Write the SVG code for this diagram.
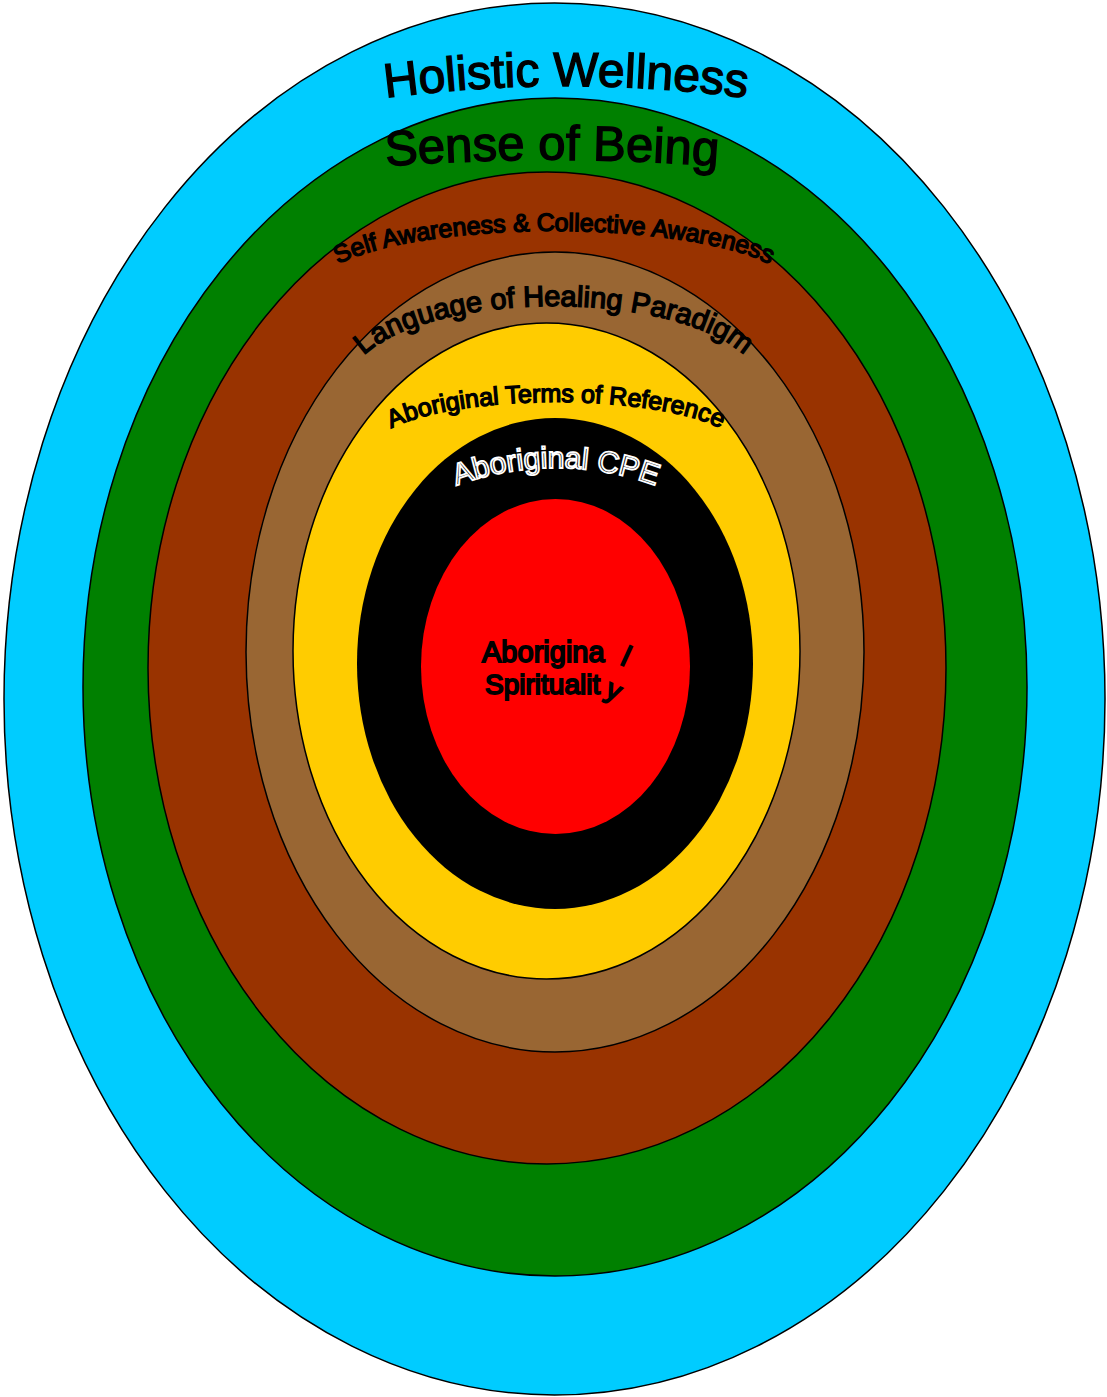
<svg xmlns="http://www.w3.org/2000/svg" xmlns:xlink="http://www.w3.org/1999/xlink" width="1107" height="1397" viewBox="0 0 1107 1397">
<style>
.ring{stroke:#000;stroke-width:1.5}
.lbl{font-family:"Liberation Sans",Arial,sans-serif;fill:#000;stroke:#000;stroke-width:1.4;text-anchor:middle}
.cpe{font-family:"Liberation Sans",Arial,sans-serif;fill:#000;stroke:#fff;stroke-width:1.8;text-anchor:middle}
.core{font-family:"Liberation Sans",Arial,sans-serif;fill:#000;stroke:#000;stroke-width:1.8}
</style>
<defs>
<path id="pHW" d="M 366 100.6 A 1379 1379 0 0 1 766 100.6"/>
<path id="pSB" d="M 352 168.8 A 2272 2272 0 0 1 752 168.8"/>
<path id="pSA" d="M 318 287 A 236 56 0 0 1 790 287"/>
<path id="pLH" d="M 350 383.7 A 204 77.7 0 0 1 758 383.7"/>
<path id="pTR" d="M 372 449.6 A 184 47.6 0 0 1 740 449.6"/>
<path id="pCPE" d="M 426 499 A 287 287 0 0 1 686 499"/>
<path id="pAB" d="M 482 662 L 615 662 L 665 685"/>
<path id="pSP" d="M 485 694 L 600 694 L 650 717"/>
</defs>
<g id="holistic-wellness">
<ellipse class="ring" cx="554.5" cy="699" rx="550.5" ry="696" fill="#00CCFF"/>
<text class="lbl" font-size="48"><textPath xlink:href="#pHW" startOffset="50%">Holistic Wellness</textPath></text>
</g>
<g id="sense-of-being">
<ellipse class="ring" cx="555" cy="687" rx="472" ry="589" fill="#008000"/>
<text class="lbl" font-size="49"><textPath xlink:href="#pSB" startOffset="50%">Sense of Being</textPath></text>
</g>
<g id="self-awareness">
<ellipse class="ring" cx="547" cy="668" rx="399" ry="496" fill="#993300"/>
<text class="lbl" font-size="25"><textPath xlink:href="#pSA" startOffset="50%">Self Awareness &amp; Collective Awareness</textPath></text>
</g>
<g id="language-of-healing">
<ellipse class="ring" cx="555" cy="652" rx="309" ry="400" fill="#996633"/>
<text class="lbl" font-size="29"><textPath xlink:href="#pLH" startOffset="50%">Language of Healing Paradigm</textPath></text>
</g>
<g id="terms-of-reference">
<ellipse class="ring" cx="546.5" cy="651" rx="253.5" ry="328" fill="#FFCC00"/>
<text class="lbl" font-size="25"><textPath xlink:href="#pTR" startOffset="50%">Aboriginal Terms of Reference</textPath></text>
</g>
<g id="aboriginal-cpe">
<ellipse cx="555" cy="663.5" rx="198" ry="245.5" fill="#000000"/>
<text class="cpe" font-size="30"><textPath xlink:href="#pCPE" startOffset="50%">Aboriginal CPE</textPath></text>
</g>
<g id="aboriginal-spirituality">
<ellipse cx="555.5" cy="666.5" rx="134.5" ry="167.5" fill="#FF0000"/>
<text class="core" font-size="29"><textPath xlink:href="#pAB">Aborigina<tspan dx="15">l</tspan></textPath></text>
<text class="core" font-size="28"><textPath xlink:href="#pSP">Spiritualit<tspan dx="4">y</tspan></textPath></text>
</g>
<g id="connectors"/>
</svg>
